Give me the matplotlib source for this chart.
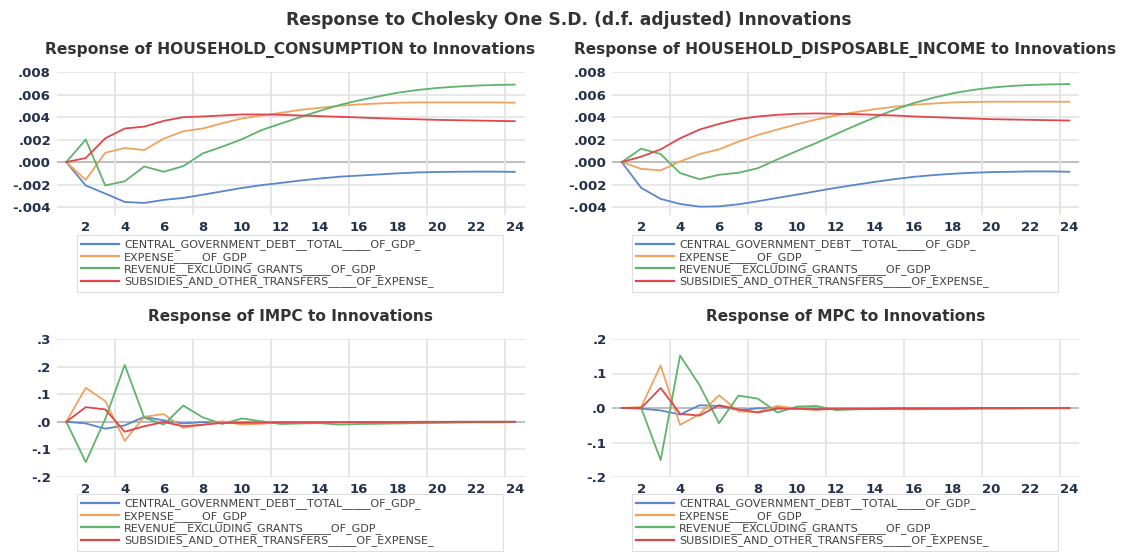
import numpy as np
import matplotlib
matplotlib.use("Agg")
import matplotlib.pyplot as plt
from matplotlib.ticker import FuncFormatter

plt.rcParams['font.family'] = ['DejaVu Sans']

# periods
periods = np.arange(1, 25)
xticks = np.arange(2, 25, 2)

labels = ["CENTRAL_GOVERNMENT_DEBT__TOTAL_____OF_GDP_",
          "EXPENSE_____OF_GDP_",
          "REVENUE__EXCLUDING_GRANTS_____OF_GDP_",
          "SUBSIDIES_AND_OTHER_TRANSFERS_____OF_EXPENSE_"]
colors = ['#5a86cc', '#f0a35e', '#5fb36b', '#e0474c']

# Response of HOUSEHOLD_CONSUMPTION
hc_debt = [0, -0.00208, -0.0028, -0.00354, -0.00363, -0.00336, -0.00318, -0.0029, -0.0026, -0.0023,
           -0.00205, -0.00185, -0.00164, -0.00146, -0.0013, -0.0012, -0.0011, -0.001, -0.00092, -0.00088,
           -0.00086, -0.00085, -0.00085, -0.00087]
hc_exp = [0, -0.00158, 0.00083, 0.00125, 0.00107, 0.00208, 0.00274, 0.00298, 0.00345, 0.00387,
          0.00414, 0.00437, 0.00464, 0.00482, 0.005, 0.00512, 0.0052, 0.00527, 0.0053, 0.0053,
          0.0053, 0.0053, 0.0053, 0.00527]
hc_rev = [0, 0.002, -0.00208, -0.0017, -0.00039, -0.00086, -0.00036, 0.00077, 0.00137, 0.00202,
          0.00283, 0.00342, 0.00399, 0.00455, 0.00506, 0.00548, 0.00583, 0.00616, 0.0064, 0.00658,
          0.0067, 0.00679, 0.00685, 0.00688]
hc_sub = [0, 0.00036, 0.00211, 0.00298, 0.00315, 0.00366, 0.00399, 0.00405, 0.00414, 0.00423,
          0.00423, 0.0042, 0.00414, 0.00408, 0.00402, 0.00396, 0.0039, 0.00384, 0.0038, 0.00375,
          0.00372, 0.00369, 0.00366, 0.00363]

# Response of HOUSEHOLD_DISPOSABLE_INCOME
hdi_debt = [0, -0.00229, -0.00327, -0.00372, -0.00396, -0.00393, -0.00375, -0.00348, -0.00318, -0.00289,
            -0.00259, -0.00229, -0.00202, -0.00176, -0.00152, -0.00131, -0.00116, -0.00104, -0.00095, -0.00089,
            -0.00086, -0.00083, -0.00083, -0.00086]
hdi_exp = [0, -0.0006, -0.00074, 0.00006, 0.00071, 0.00113, 0.00182, 0.00241, 0.00289, 0.00336,
           0.00378, 0.00414, 0.00443, 0.0047, 0.00491, 0.00509, 0.0052, 0.0053, 0.00534, 0.00536,
           0.00536, 0.00536, 0.00536, 0.00536]
hdi_rev = [0, 0.00119, 0.00071, -0.00098, -0.00152, -0.00113, -0.00095, -0.00054, 0.00024, 0.00098,
           0.0017, 0.00247, 0.00324, 0.00396, 0.00464, 0.00524, 0.00571, 0.0061, 0.0064, 0.00661,
           0.00676, 0.00685, 0.0069, 0.00693]
hdi_sub = [0, 0.00048, 0.00113, 0.00211, 0.00289, 0.00339, 0.00381, 0.00405, 0.0042, 0.00429,
           0.00432, 0.00429, 0.00426, 0.0042, 0.00414, 0.00405, 0.00399, 0.00393, 0.00387, 0.00381,
           0.00378, 0.00375, 0.00372, 0.00369]

# Response of IMPC
impc_debt = [0, -0.006, -0.025, -0.013, 0.018, 0.005, -0.006, -0.001, -0.003, -0.002,
             -0.003, -0.002, -0.002, -0.002, -0.002, -0.001, -0.001, -0.001, -0.001, -0.001,
             0, 0, 0, 0]
impc_exp = [0, 0.123, 0.075, -0.069, 0.018, 0.028, -0.022, -0.01, 0.002, -0.01,
            -0.007, -0.002, -0.003, -0.003, -0.002, -0.002, -0.002, -0.001, -0.001, -0.001,
            -0.001, 0, 0, 0]
impc_rev = [0, -0.146, 0.01, 0.206, 0.015, -0.01, 0.059, 0.016, -0.008, 0.012,
            0.002, -0.008, -0.006, -0.005, -0.01, -0.008, -0.007, -0.006, -0.005, -0.004,
            -0.003, -0.002, -0.002, -0.001]
impc_sub = [0, 0.053, 0.045, -0.036, -0.016, -0.001, -0.016, -0.011, -0.004, -0.004,
            -0.003, -0.002, -0.002, -0.002, -0.001, -0.001, -0.001, -0.001, 0, 0,
            0, 0, 0, 0]

# Response of MPC
mpc_debt = [0, -0.002, -0.007, -0.019, 0.008, 0.006, -0.006, -0.001, 0, -0.002,
            -0.002, -0.002, -0.002, -0.002, -0.001, -0.001, -0.001, -0.001, -0.001, 0,
            0, 0, 0, 0]
mpc_exp = [0, 0.003, 0.123, -0.049, -0.018, 0.037, -0.01, -0.011, 0.006, -0.002,
           -0.006, -0.002, -0.002, -0.002, -0.002, -0.001, -0.001, -0.001, -0.001, 0,
           0, 0, 0, 0]
mpc_rev = [0, 0, -0.151, 0.152, 0.066, -0.044, 0.036, 0.027, -0.013, 0.004,
           0.006, -0.006, -0.004, -0.003, -0.003, -0.004, -0.003, -0.003, -0.002, -0.002,
           -0.002, -0.001, -0.001, -0.001]
mpc_sub = [0, 0, 0.058, -0.017, -0.022, 0.008, -0.004, -0.013, -0.002, -0.002,
           -0.004, -0.002, -0.002, -0.002, -0.001, -0.001, -0.001, -0.001, 0, 0,
           0, 0, 0, 0]

W, H = 1126, 553
fig = plt.figure(figsize=(W / 100, H / 100), dpi=100)
fig.patch.set_facecolor('white')


def pax(l, t, r, b):
    return fig.add_axes([l / W, 1 - b / H, (r - l) / W, (b - t) / H])


def fmt(dec):
    def f(v, pos):
        s = f"{abs(v):.{dec}f}".lstrip('0')
        return ('-' if v < -1e-12 else '') + s
    return FuncFormatter(f)


def fit(t, target):
    # scale font size so the text is as wide as in the reference
    for _ in range(3):
        fig.canvas.draw()
        w = t.get_window_extent().width
        t.set_fontsize(t.get_fontsize() * target / w)


def panel(box, title, series, ylim, yticks, dec):
    ax = pax(*box)
    for k, s in enumerate(series):
        ax.plot(periods, s, color=colors[k], lw=1.3, label=labels[k], zorder=3)
    ax.set_xlim(0.5, 24.5)
    ax.set_ylim(*ylim)
    ax.set_yticks(yticks)
    ax.set_xticks(xticks)
    ax.yaxis.set_major_formatter(fmt(dec))
    for yv in yticks:
        ax.axhline(yv, color='#b3b3b3' if abs(yv) < 1e-12 else '#e4e4e4',
                   lw=1.2, zorder=1)
    for xv in np.arange(3.5, 24, 4):
        ax.axvline(xv, color='#e4e4e4', lw=1.3, zorder=1)
    for sp in ax.spines.values():
        sp.set_visible(False)
    ax.tick_params(length=0, labelsize=9.5, labelcolor='#22304a', pad=4)
    for t in ax.get_xticklabels() + ax.get_yticklabels():
        t.set_fontweight('bold')
    ax.set_title(title, fontsize=11, color='#333333', fontweight='bold', pad=13)
    return ax


ax1 = panel((56.5, 72, 524.5, 215), "Response of HOUSEHOLD_CONSUMPTION to Innovations",
            [hc_debt, hc_exp, hc_rev, hc_sub], (-0.0047, 0.008),
            [-0.004, -0.002, 0, 0.002, 0.004, 0.006, 0.008], 3)
ax2 = panel((612, 72, 1079, 215), "Response of HOUSEHOLD_DISPOSABLE_INCOME to Innovations",
            [hdi_debt, hdi_exp, hdi_rev, hdi_sub], (-0.0047, 0.008),
            [-0.004, -0.002, 0, 0.002, 0.004, 0.006, 0.008], 3)
ax3 = panel((56.5, 339, 524.5, 477), "Response of IMPC to Innovations",
            [impc_debt, impc_exp, impc_rev, impc_sub], (-0.2, 0.3),
            [-0.2, -0.1, 0, 0.1, 0.2, 0.3], 1)
ax4 = panel((612, 339, 1079, 477), "Response of MPC to Innovations",
            [mpc_debt, mpc_exp, mpc_rev, mpc_sub], (-0.2, 0.2),
            [-0.2, -0.1, 0, 0.1, 0.2], 1)

# legends
for ax, (l, t) in [(ax1, (77, 235)), (ax2, (632, 235)), (ax3, (77, 494)), (ax4, (632, 494))]:
    leg = ax.legend(loc='upper left', bbox_to_anchor=(l / W, 1 - (t + 56) / H, 426 / W, 56 / H),
                    bbox_transform=fig.transFigure, mode='expand', fontsize=8.0,
                    handlelength=3.4, handletextpad=0.45, labelspacing=0.13,
                    borderpad=0.4, borderaxespad=0, frameon=True, fancybox=False)
    leg.get_frame().set_edgecolor('#d6d6d6')
    leg.get_frame().set_linewidth(0.8)
    for txt in leg.get_texts():
        txt.set_color('#404040')
    for ln in leg.get_lines():
        ln.set_linewidth(1.6)

sup = fig.text(569 / W, 1 - 20 / H, "Response to Cholesky One S.D. (d.f. adjusted) Innovations",
               ha='center', va='center', fontsize=11.5, color='#333333', fontweight='bold')

fit(sup, 565)
fit(ax1.title, 490)
fit(ax2.title, 545)
fit(ax3.title, 285)
fit(ax4.title, 280)

fig.savefig('out.png', dpi=100)
